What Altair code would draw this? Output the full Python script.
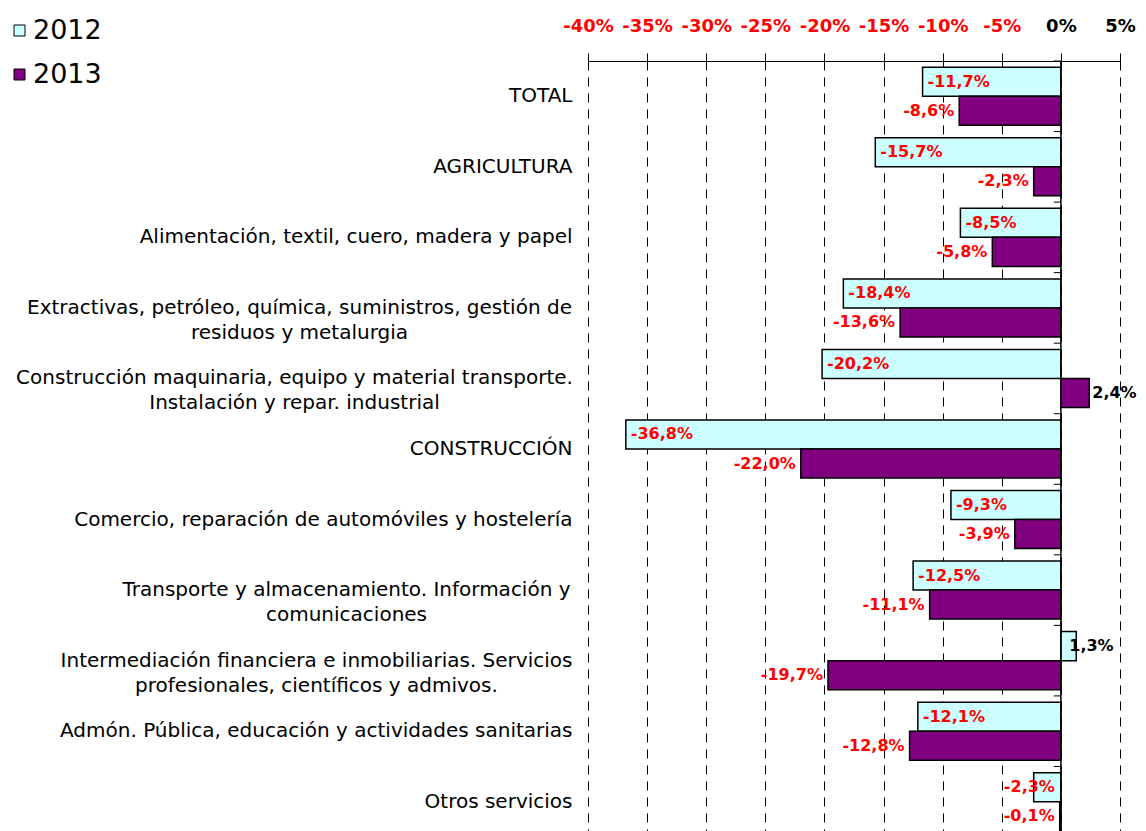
import altair as alt
import pandas as pd

# ---------------- data ----------------
categories = [
    "TOTAL",
    "AGRICULTURA",
    "Alimentación, textil, cuero, madera y papel",
    "Extractivas, petróleo, química, suministros, gestión de\nresiduos y metalurgia",
    "Construcción maquinaria, equipo y material transporte.\nInstalación y repar. industrial",
    "CONSTRUCCIÓN",
    "Comercio, reparación de automóviles y hostelería",
    "Transporte y almacenamiento. Información y\ncomunicaciones",
    "Intermediación financiera e inmobiliarias. Servicios\nprofesionales, científicos y admivos.",
    "Admón. Pública, educación y actividades sanitarias",
    "Otros servicios",
]
series = ["2012", "2013"]
values_2012 = [-11.7, -15.7, -8.5, -18.4, -20.2, -36.8, -9.3, -12.5, 1.3, -12.1, -2.3]
values_2013 = [-8.6, -2.3, -5.8, -13.6, 2.4, -22.0, -3.9, -11.1, -19.7, -12.8, -0.1]
x_ticks = [-40, -35, -30, -25, -20, -15, -10, -5, 0, 5]
group_boundaries = list(range(len(categories) + 1))

rows = []
for cat, v12, v13 in zip(categories, values_2012, values_2013):
    for yr, v in (("2012", v12), ("2013", v13)):
        rows.append({"cat": cat, "year": yr, "value": v,
                     "label": f"{v:.1f}".replace(".", ",") + "%"})
df = pd.DataFrame(rows)
df_zero = pd.DataFrame({"zero": [0]})
df_bound = pd.DataFrame({"b": group_boundaries})

# ---------------- style ----------------
FONT = "DejaVu Sans"
RED = "#FF0000"
FILLS = ["#CCFFFF", "#800080"]
W, H = 532, 776
PAD_LEFT = 580

# horizontal padding for centred two-line category labels (block right edge aligned)
two_line_pad = {"Extractivas": 289, "Construcción maq": 294, "Transporte y al": 242, "Intermediación": 272}
pad_expr = "".join(
    f"indexof(datum.value, '{k}') == 0 ? {v} : " for k, v in two_line_pad.items()
) + "16"

y_scale = alt.Scale(domain=categories, paddingInner=0.177, paddingOuter=0.0885)
yoff_scale = alt.Scale(domain=series, paddingInner=0, paddingOuter=0)
x_scale = alt.Scale(domain=[-40, 5], nice=False, zero=False)

y_axis = alt.Axis(
    title=None, domain=False, ticks=False, grid=False,
    labelExpr="split(datum.label, '\\n')",
    labelFont=FONT, labelFontSize=20, labelColor="black", labelLimit=0,
    labelLineHeight=25, labelBaseline="middle",
    labelAlign={"condition": {"test": "indexof(datum.value, '\\n') >= 0", "value": "center"},
                "value": "right"},
    labelPadding={"expr": pad_expr},
)
x_axis = alt.Axis(
    orient="top", values=x_ticks, labelExpr="datum.value + '%'", title=None,
    grid=True, gridDash=[9, 7], gridColor="black", gridWidth=1, gridOpacity=1,
    domainColor="black", domainWidth=1, tickColor="black", tickSize=8, tickWidth=1,
    labelFont=FONT, labelFontSize=18, labelFontWeight="bold",
    labelColor={"condition": {"test": "datum.value < 0", "value": RED}, "value": "black"},
    labelPadding=18, labelFlush=False, labelOverlap=False,
)

Y = alt.Y("cat:N", scale=y_scale, axis=y_axis)
YO = alt.YOffset("year:N", scale=yoff_scale)

bars = alt.Chart(df).mark_bar(stroke="black", strokeWidth=1.5).encode(
    y=Y, yOffset=YO,
    x=alt.X("value:Q", scale=x_scale, axis=x_axis),
    x2=alt.X2(datum=0),
    color=alt.Color(
        "year:N",
        scale=alt.Scale(domain=series, range=FILLS),
        legend=alt.Legend(
            title=None, orient="none", legendX=-582, legendY=-44,
            symbolType="square", symbolSize=121, symbolStrokeColor="black",
            symbolStrokeWidth=1, symbolOpacity=1,
            labelFont=FONT, labelFontSize=27, labelColor="black",
            labelOffset=0, rowPadding=16, padding=0,
        ),
    ),
)


def value_labels(sub, align, dx, color, at_zero=False):
    xenc = alt.X(datum=0, scale=x_scale, axis=x_axis) if at_zero else alt.X("value:Q", scale=x_scale, axis=x_axis)
    return alt.Chart(sub).mark_text(
        align=align, dx=dx, baseline="middle", font=FONT, fontSize=16,
        fontWeight="bold", color=color,
    ).encode(y=Y, yOffset=YO, x=xenc, text="label:N")


d12 = df[df.year == "2012"]
d13 = df[df.year == "2013"]
texts = [
    value_labels(d12[d12.value <= -5], "left", 5, RED),
    value_labels(d12[(d12.value > -5) & (d12.value < 0)], "right", -6, RED, at_zero=True),
    value_labels(d12[d12.value > 0], "left", -7, "black"),
    value_labels(d13[d13.value < 0], "right", -5, RED),
    value_labels(d13[d13.value > 0], "left", 3, "black"),
]

zero_line = alt.Chart(df_zero).mark_rule(color="black", strokeWidth=1.5).encode(
    x=alt.X("zero:Q", scale=x_scale, axis=x_axis)
)

main = alt.layer(bars, *texts, zero_line)

boundary_ticks = alt.Chart(df_bound).mark_rule(color="black", strokeWidth=1).encode(
    y=alt.Y("b:Q", scale=alt.Scale(domain=[0, len(categories)], nice=False, zero=False), axis=None),
    x=alt.X(datum=-0.6, scale=x_scale, axis=x_axis),
    x2=alt.X2(datum=0),
)

chart = alt.layer(main, boundary_ticks).resolve_scale(y="independent").properties(
    width=W, height=H,
    autosize=alt.AutoSizeParams(type="none"),
    padding={"left": PAD_LEFT, "top": 53, "right": 17, "bottom": 0},
    background="white",
).configure_view(stroke=None)

chart.save("out.html", embed_options={"renderer": "svg", "actions": False})
